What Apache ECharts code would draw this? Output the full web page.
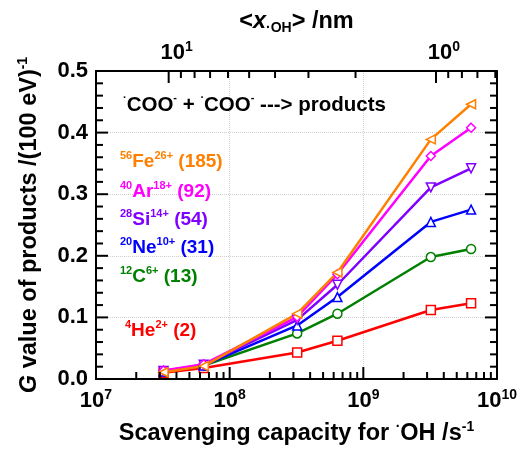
<!DOCTYPE html>
<html>
<head>
<meta charset="utf-8">
<script src="https://cdn.jsdelivr.net/npm/echarts@6/dist/echarts.min.js"></script>
<style>
  html, body { margin: 0; padding: 0; background: #fff; }
  #chart { width: 520px; height: 451px; }
</style>
</head>
<body>
<div id="chart"></div>
<script>
// scavenging capacity (s^-1)
var capacity = [3.2e7, 6.4e7, 3.2e8, 6.4e8, 3.2e9, 6.4e9]

// G values for each ion
var heG = [0.010, 0.018, 0.043, 0.062, 0.112, 0.123]
var cG = [0.012, 0.022, 0.074, 0.106, 0.198, 0.211]
var neG = [0.012, 0.022, 0.087, 0.133, 0.255, 0.275]
var siG = [0.013, 0.023, 0.096, 0.153, 0.311, 0.342]
var arG = [0.014, 0.024, 0.101, 0.170, 0.362, 0.408]
var feG = [0.011, 0.021, 0.106, 0.173, 0.389, 0.446]

// tick positions
var bottomMajor = [1e8, 1e9]
var bottomMinor = [2e7, 3e7, 4e7, 5e7, 6e7, 7e7, 8e7, 9e7, 2e8, 3e8, 4e8, 5e8, 6e8, 7e8, 8e8, 9e8, 2e9, 3e9, 4e9, 5e9, 6e9, 7e9, 8e9, 9e9]
var topMajor = [1, 10]
var topMinor = [9, 8, 7, 6, 5, 4, 3, 2, 0.9, 0.8, 0.7, 0.6]
var yMajor = [0.1, 0.2, 0.3, 0.4]
var yMinor = [0.02, 0.04, 0.06, 0.08, 0.12, 0.14, 0.16, 0.18, 0.22, 0.24, 0.26, 0.28, 0.32, 0.34, 0.36, 0.38, 0.42, 0.44, 0.46, 0.48]

var font = 'Liberation Sans, Arial, sans-serif'

var myChart = echarts.init(document.getElementById('chart'))

function powLabel(v) {
    var e = Math.log10(v)
    if (Math.abs(e - Math.round(e)) > 1e-6) return ''
    return '{b|10}{s|' + Math.round(e) + '}'
}

var labelRich = {
    b: { fontSize: 22, fontWeight: 'bold', fontFamily: font, color: '#000', lineHeight: 26 },
    s: { fontSize: 14, fontWeight: 'bold', fontFamily: font, color: '#000', verticalAlign: 'top', lineHeight: 14 },
}

var nameRich = {
    n: { fontSize: 23.5, fontWeight: 'bold', fontFamily: font, color: '#000', lineHeight: 28 },
    i: { fontSize: 23.5, fontWeight: 'bold', fontStyle: 'italic', fontFamily: font, color: '#000', lineHeight: 28 },
    s: { fontSize: 14, fontWeight: 'bold', fontFamily: font, color: '#000', verticalAlign: 'top', lineHeight: 14 },
    sub: { fontSize: 14, fontWeight: 'bold', fontFamily: font, color: '#000', verticalAlign: 'bottom', lineHeight: 14 },
}

function makeSeries(name, data, color, symbol, rotate) {
    return {
        name: name,
        type: 'line',
        data: capacity.map(function(x, i) { return [x, data[i]] }),
        symbol: symbol,
        symbolRotate: rotate || 0,
        symbolSize: 9,
        lineStyle: { color: color, width: 2.5 },
        itemStyle: { color: '#fff', borderColor: color, borderWidth: 1.5 },
        z: 3,
        animation: false,
    }
}

// tick marks: thin rect symbols placed by the axes, nudged inward
function tickSeries(points, xIndex, size, offset) {
    return {
        type: 'scatter',
        xAxisIndex: xIndex,
        yAxisIndex: 0,
        data: points,
        symbol: 'rect',
        symbolSize: size,
        symbolOffset: offset,
        itemStyle: { color: '#000', borderWidth: 0, opacity: 1 },
        clip: false,
        animation: false,
        z: 5,
    }
}

var sup = { fontSize: 11, fontWeight: 'bold', fontFamily: font, verticalAlign: 'top', lineHeight: 11 }
function ionText(color, size) {
    return {
        n: { fontSize: size, fontWeight: 'bold', fontFamily: font, fill: color, color: color, lineHeight: size + 5 },
        s: Object.assign({ fill: color, color: color }, sup),
    }
}
function ionLabel(text, color, x, y) {
    return {
        type: 'text',
        x: x,
        y: y,
        z: 10,
        style: {
            text: text,
            rich: ionText(color, 19),
            verticalAlign: 'middle',
        },
    }
}

var option = {
    grid: { left: 96, right: 23, top: 71, bottom: 70 },
    xAxis: [
        {
            type: 'log',
            logBase: 10,
            min: 1e7,
            max: 1e10,
            position: 'bottom',
            name: '{n|Scavenging capacity for }{s|·}{n|OH /s}{s|-1}',
            nameLocation: 'middle',
            nameGap: 41,
            nameTextStyle: { rich: nameRich },
            axisLine: { show: true, onZero: false, lineStyle: { color: '#000', width: 2 } },
            axisTick: { show: false },
            axisLabel: { show: true, margin: 9, formatter: powLabel, rich: labelRich },
            splitLine: { show: true, lineStyle: { color: '#cfcfcf', type: 'dotted', width: 1 } },
        },
        {
            type: 'log',
            logBase: 10,
            min: 0.5914,
            max: 18.70,
            inverse: true,
            position: 'top',
            name: '{n|<}{i|x}{sub|·OH}{n|> /nm}',
            nameLocation: 'middle',
            nameGap: 31,
            nameTextStyle: { rich: nameRich },
            axisLine: { show: true, onZero: false, lineStyle: { color: '#000', width: 2 } },
            axisTick: { show: false },
            axisLabel: { show: true, margin: 5, padding: [0, 0, 0, 16], formatter: powLabel, rich: labelRich, showMinLabel: false, showMaxLabel: false },
            splitLine: { show: false },
        },
    ],
    yAxis: [
        {
            type: 'value',
            min: 0,
            max: 0.5,
            interval: 0.1,
            name: '{i|G}{n| value of products /(100 eV)}{s|-1}',
            nameLocation: 'middle',
            nameGap: 52,
            nameRotate: 90,
            nameTextStyle: { rich: nameRich },
            axisLine: { show: true, onZero: false, lineStyle: { color: '#000', width: 2 } },
            axisTick: { show: false },
            axisLabel: {
                show: true,
                margin: 8,
                fontSize: 22,
                fontWeight: 'bold',
                fontFamily: font,
                color: '#000',
                formatter: function(v) { return v.toFixed(1) },
            },
            splitLine: { show: true, lineStyle: { color: '#cfcfcf', type: 'dotted', width: 1 } },
        },
        {
            type: 'value',
            min: 0,
            max: 0.5,
            interval: 0.1,
            position: 'right',
            axisLine: { show: true, onZero: false, lineStyle: { color: '#000', width: 2 } },
            axisTick: { show: false },
            axisLabel: { show: false },
            splitLine: { show: false },
        },
    ],
    graphic: [
        {
            type: 'text',
            x: 123,
            y: 105,
            z: 10,
            style: {
                text: '{s|·}{n|COO}{s|-}{n| + }{s|·}{n|COO}{s|-}{n| ---> products}',
                rich: ionText('#000', 20.5),
                verticalAlign: 'middle',
            },
        },
        ionLabel('{s|56}{n|Fe}{s|26+}{n| (185)}', '#FF8000', 120, 162),
        ionLabel('{s|40}{n|Ar}{s|18+}{n| (92)}', '#FF00FF', 120, 192),
        ionLabel('{s|28}{n|Si}{s|14+}{n| (54)}', '#8000FF', 120, 220),
        ionLabel('{s|20}{n|Ne}{s|10+}{n| (31)}', '#0000FF', 120, 248),
        ionLabel('{s|12}{n|C}{s|6+}{n| (13)}', '#008000', 120, 277),
        ionLabel('{s|4}{n|He}{s|2+}{n| (2)}', '#FF0000', 125, 331),
    ],
    series: [
        makeSeries('He', heG, '#FF0000', 'rect'),
        makeSeries('C', cG, '#008000', 'circle'),
        makeSeries('Ne', neG, '#0000FF', 'triangle'),
        makeSeries('Si', siG, '#8000FF', 'triangle', 180),
        makeSeries('Ar', arG, '#FF00FF', 'diamond'),
        makeSeries('Fe', feG, '#FF8000', 'triangle', 90),
        tickSeries(bottomMajor.map(function(v) { return [v, 0] }), 0, [2, 12], [0, -6]),
        tickSeries(bottomMinor.map(function(v) { return [v, 0] }), 0, [2, 7], [0, -3.5]),
        tickSeries(topMajor.map(function(v) { return [v, 0.5] }), 1, [2, 12], [0, 6]),
        tickSeries(topMinor.map(function(v) { return [v, 0.5] }), 1, [2, 7], [0, 3.5]),
        tickSeries(yMajor.map(function(v) { return [1e7, v] }), 0, [12, 2], [6, 0]),
        tickSeries(yMinor.map(function(v) { return [1e7, v] }), 0, [7, 2], [3.5, 0]),
        tickSeries(yMajor.map(function(v) { return [1e10, v] }), 0, [12, 2], [-6, 0]),
        tickSeries(yMinor.map(function(v) { return [1e10, v] }), 0, [7, 2], [-3.5, 0]),
    ],
}
myChart.setOption(option)
</script>
</body>
</html>
